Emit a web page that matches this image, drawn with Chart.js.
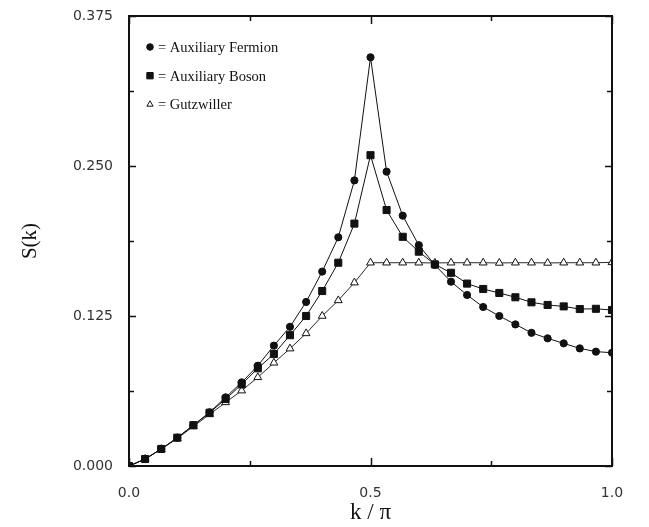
<!DOCTYPE html>
<html><head><meta charset="utf-8">
<script src="https://cdn.jsdelivr.net/npm/chart.js@4"></script>
<style>html,body{margin:0;padding:0;background:#fff}</style>
</head><body>
<canvas id="c" width="649" height="527"></canvas>
<script>
const kValues = [0, 0.0333, 0.0667, 0.1, 0.1333, 0.1667, 0.2, 0.2333, 0.2667, 0.3, 0.3333, 0.3667, 0.4, 0.4333, 0.4667, 0.5, 0.5333, 0.5667, 0.6, 0.6333, 0.6667, 0.7, 0.7333, 0.7667, 0.8, 0.8333, 0.8667, 0.9, 0.9333, 0.9667, 1.0];
const fermion = [0, 0.0058, 0.0142, 0.0236, 0.034, 0.0447, 0.0572, 0.0697, 0.0836, 0.1003, 0.116, 0.1367, 0.162, 0.1906, 0.238, 0.3406, 0.2453, 0.2086, 0.184, 0.1675, 0.1536, 0.1425, 0.1325, 0.125, 0.118, 0.111, 0.1064, 0.1022, 0.098, 0.0953, 0.0944];
const boson = [0, 0.0058, 0.0142, 0.0236, 0.034, 0.0444, 0.0558, 0.068, 0.0814, 0.0933, 0.109, 0.125, 0.1458, 0.1694, 0.202, 0.259, 0.2133, 0.191, 0.1786, 0.168, 0.161, 0.152, 0.1475, 0.1442, 0.1406, 0.1364, 0.1342, 0.133, 0.1308, 0.131, 0.130];
const gutzwiller = [0, 0.0058, 0.014, 0.023, 0.033, 0.043, 0.053, 0.0628, 0.0739, 0.086, 0.0978, 0.1105, 0.125, 0.138, 0.1528, 0.1694, 0.1694, 0.1694, 0.1694, 0.1692, 0.1694, 0.1694, 0.1694, 0.1692, 0.1694, 0.1694, 0.1692, 0.1694, 0.1694, 0.1694, 0.1697];
const seriesLabels = ['Auxiliary Fermion', 'Auxiliary Boson', 'Gutzwiller'];
const yTickLabels = ['0.000', '0.125', '0.250', '0.375'];
const xTickLabels = ['0.0', '0.5', '1.0'];

const toXY = arr => arr.map((v, i) => ({x: kValues[i], y: v}));

const framePlugin = {
  id: 'frame',
  afterDatasetsDraw(chart) {
    const {ctx, chartArea: a, scales} = chart;
    ctx.save();
    ctx.strokeStyle = '#111';
    ctx.lineWidth = 1.5;
    scales.y.ticks.forEach(t => {
      const y = Math.round(scales.y.getPixelForValue(t.value)) + 0.5;
      const major = Math.abs(t.value / 0.125 - Math.round(t.value / 0.125)) < 1e-6;
      const len = major ? 7 : 5;
      ctx.beginPath();
      ctx.moveTo(a.left, y); ctx.lineTo(a.left + len, y);
      ctx.moveTo(a.right, y); ctx.lineTo(a.right - len, y);
      ctx.stroke();
    });
    scales.x.ticks.forEach(t => {
      const x = Math.round(scales.x.getPixelForValue(t.value)) + 0.5;
      const major = Math.abs(t.value / 0.5 - Math.round(t.value / 0.5)) < 1e-6;
      const len = major ? 8 : 5;
      ctx.beginPath();
      ctx.moveTo(x, a.bottom); ctx.lineTo(x, a.bottom - len);
      ctx.moveTo(x, a.top); ctx.lineTo(x, a.top + len);
      ctx.stroke();
    });
    ctx.lineWidth = 2;
    ctx.strokeRect(a.left, a.top, a.right - a.left, a.bottom - a.top);
    // legend
    ctx.font = '14.5px "Liberation Serif", serif';
    ctx.textBaseline = 'middle';
    chart.data.datasets.forEach((ds, i) => {
      const lx = a.left + 21, ly = a.top + 31 + i * 28.7;
      ctx.fillStyle = ds.pointBackgroundColor;
      ctx.strokeStyle = '#111';
      ctx.lineWidth = 1;
      Chart.helpers.drawPoint(ctx, {pointStyle: ds.pointStyle, radius: ds.legendRadius, borderWidth: 1}, lx, ly);
      ctx.fillStyle = '#111';
      ctx.fillText('= ' + ds.label, lx + 8, ly + 1);
    });
    ctx.restore();
  }
};

new Chart(document.getElementById('c'), {
  type: 'scatter',
  data: {
    datasets: [
      {label: seriesLabels[0], data: toXY(fermion), showLine: true, borderColor: '#111', borderWidth: 1,
       pointStyle: 'circle', pointRadius: 3.6, legendRadius: 3.3, pointBackgroundColor: '#111', pointBorderColor: '#111'},
      {label: seriesLabels[1], data: toXY(boson), showLine: true, borderColor: '#111', borderWidth: 1,
       pointStyle: 'rect', pointRadius: 5, legendRadius: 4.5, pointBackgroundColor: '#111', pointBorderColor: '#111'},
      {label: seriesLabels[2], data: toXY(gutzwiller), showLine: true, borderColor: '#111', borderWidth: 0.9,
       pointStyle: 'triangle', pointRadius: 4.5, legendRadius: 3.6, pointBackgroundColor: '#fff', pointBorderColor: '#111', pointBorderWidth: 1}
    ]
  },
  options: {
    responsive: false,
    animation: false,
    events: [],
    layout: {padding: {left: 0, right: 37, top: 16, bottom: 0}},
    plugins: {legend: {display: false}, tooltip: {enabled: false}},
    scales: {
      x: {
        type: 'linear', min: 0, max: 1,
        grid: {display: false}, border: {display: false},
        ticks: {stepSize: 0.25, padding: 11, color: '#333', font: {family: '"DejaVu Sans", sans-serif', size: 14},
          maxRotation: 0, autoSkip: false,
          callback: v => { const i = Math.round(v / 0.5); return Math.abs(v - i * 0.5) < 1e-6 ? xTickLabels[i] : ''; }},
        title: {display: true, text: 'k / π', color: '#111', font: {family: '"Liberation Serif", serif', size: 23}, padding: {top: 0, bottom: 0}},
        afterFit: s => { s.height = 61; s.paddingLeft = 0; s.paddingRight = 0; }
      },
      y: {
        type: 'linear', min: 0, max: 0.375,
        grid: {display: false}, border: {display: false},
        ticks: {stepSize: 0.0625, padding: 8, color: '#333', font: {family: '"DejaVu Sans", sans-serif', size: 14},
          autoSkip: false,
          callback: v => { const i = Math.round(v / 0.125); return Math.abs(v - i * 0.125) < 1e-6 ? yTickLabels[i] : ''; }},
        title: {display: true, text: 'S(k)', color: '#111', font: {family: '"Liberation Serif", serif', size: 21}, padding: {top: 18, bottom: 0}},
        afterFit: s => { s.width = 129; s.paddingTop = 0; s.paddingBottom = 0; }
      }
    }
  },
  plugins: [framePlugin]
});
</script>
</body></html>
